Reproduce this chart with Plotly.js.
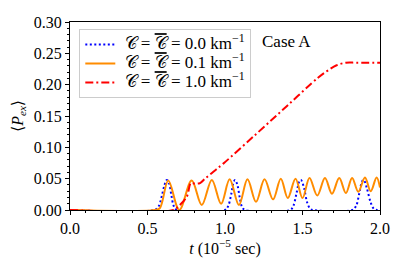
<!DOCTYPE html>
<html>
<head>
<meta charset="utf-8">
<script src="https://cdn.plot.ly/plotly-3.0.1.min.js"></script>
<style>html,body{margin:0;padding:0;background:#fff;}#chart{width:407px;height:271px;}</style>
</head>
<body>
<div id="chart"></div>
<script>
// Blue dotted: C = Cbar = 0.0 km^-1
const tBlue = [0, 0.54, 0.57, 0.59, 0.61, 0.625, 0.64, 0.655, 0.67, 0.69,
  1.0, 1.02, 1.04, 1.055, 1.065, 1.08, 1.095, 1.11, 1.13,
  1.42, 1.44, 1.46, 1.48, 1.49, 1.51, 1.53, 1.55, 1.57,
  1.82, 1.845, 1.865, 1.885, 1.895, 1.915, 1.94, 1.96, 1.98, 2.0];
const pBlue = [0, 0, 0.005, 0.02, 0.04, 0.048, 0.042, 0.022, 0.006, 0,
  0, 0.006, 0.025, 0.044, 0.048, 0.04, 0.02, 0.005, 0,
  0, 0.006, 0.025, 0.046, 0.048, 0.035, 0.012, 0.002, 0,
  0, 0.006, 0.025, 0.046, 0.048, 0.035, 0.012, 0.002, 0, 0];

// Orange solid: C = Cbar = 0.1 km^-1
const tOrange = [0, 0.55, 0.58, 0.634, 0.705, 0.785, 0.85, 0.915, 0.975, 1.03, 1.09, 1.145, 1.20,
  1.255, 1.31, 1.36, 1.405, 1.455, 1.50, 1.545, 1.595, 1.645, 1.69, 1.737, 1.78, 1.82, 1.86,
  1.903, 1.94, 1.978, 2.0];
const pOrange = [0, 0, 0.003, 0.047, 0.0, 0.047, 0.008, 0.048, 0.010, 0.049, 0.008, 0.049, 0.013,
  0.049, 0.017, 0.050, 0.019, 0.050, 0.019, 0.051, 0.023, 0.051, 0.026, 0.051, 0.027, 0.051, 0.029,
  0.052, 0.030, 0.052, 0.036];

// Red dash-dot: C = Cbar = 1.0 km^-1
const tRed = [0, 0.667, 0.70, 0.753, 0.78, 0.806, 0.839, 0.871, 0.925, 0.989, 1.2, 1.4, 1.6, 1.66, 1.72, 1.78, 1.85, 2.0];
const pRed = [0, 0, 0.006, 0.021, 0.043, 0.042, 0.043, 0.050, 0.061, 0.074, 0.121, 0.166, 0.211, 0.222, 0.231, 0.235, 0.235, 0.235];

const legendNames = [
  "𝒞 = <span style=\"text-decoration:overline\">𝒞</span> = 0.0 km<sup>−1</sup>",
  "𝒞 = <span style=\"text-decoration:overline\">𝒞</span> = 0.1 km<sup>−1</sup>",
  "𝒞 = <span style=\"text-decoration:overline\">𝒞</span> = 1.0 km<sup>−1</sup>"
];
const xTicks = [0.0, 0.5, 1.0, 1.5, 2.0];
const yTicks = [0.00, 0.05, 0.10, 0.15, 0.20, 0.25, 0.30];

const serif = "Liberation Serif, DejaVu Serif, serif";
const wrap = s => "<span style=\"font-size:17px\">\u00a0" + s + "</span>";

const traces = [
  {x: tBlue, y: pBlue, mode: "lines", name: wrap(legendNames[0]),
   line: {color: "#0000ff", width: 2, dash: "2px,2.5px", shape: "spline"}},
  {x: tOrange, y: pOrange, mode: "lines", name: wrap(legendNames[1]),
   line: {color: "#ff8c00", width: 2, shape: "spline"}},
  {x: tRed, y: pRed, mode: "lines", name: wrap(legendNames[2]),
   line: {color: "#ff0000", width: 2, dash: "8px,3px,2px,3px", shape: "spline"}}
];

const layout = {
  width: 407, height: 271,
  margin: {l: 70, r: 27, t: 22, b: 61},
  paper_bgcolor: "#fff", plot_bgcolor: "#fff",
  font: {family: serif, size: 16, color: "#000"},
  showlegend: true,
  legend: {x: 0.03, y: 0.963, xanchor: "left", yanchor: "top",
    bordercolor: "#cccccc", borderwidth: 1, bgcolor: "rgba(255,255,255,0.8)",
    font: {family: serif, size: 12}, itemwidth: 30},
  xaxis: {range: [0, 2.0], tickvals: xTicks, ticktext: xTicks.map(v => v.toFixed(1)),
    ticks: "outside", ticklen: 4, tickcolor: "#000", showgrid: false, zeroline: false,
    showline: true, linecolor: "#000", linewidth: 1, mirror: true,
    tickfont: {family: serif, size: 16},
    minor: {dtick: 0.1, tick0: 0, ticks: "outside", ticklen: 2, tickcolor: "#000", showgrid: false},
    title: {text: "<i>t</i> (10<sup>−5</sup> sec)", font: {family: serif, size: 16}, standoff: 5}},
  yaxis: {range: [0, 0.30], tickvals: yTicks, ticktext: yTicks.map(v => v.toFixed(2)),
    ticks: "outside", ticklen: 4, tickcolor: "#000", showgrid: false, zeroline: false,
    showline: true, linecolor: "#000", linewidth: 1, mirror: true,
    tickfont: {family: serif, size: 16},
    minor: {dtick: 0.01, tick0: 0, ticks: "outside", ticklen: 2, tickcolor: "#000", showgrid: false},
    title: {text: "⟨<i>P</i><sub><i>ex</i></sub>⟩", font: {family: serif, size: 16}, standoff: 6}},
  annotations: [{text: "Case A", xref: "paper", yref: "paper", x: 0.613, y: 0.894,
    xanchor: "left", yanchor: "middle", showarrow: false, font: {family: serif, size: 17}}]
};

Plotly.newPlot("chart", traces, layout, {displayModeBar: false, staticPlot: true});
</script>
</body>
</html>
